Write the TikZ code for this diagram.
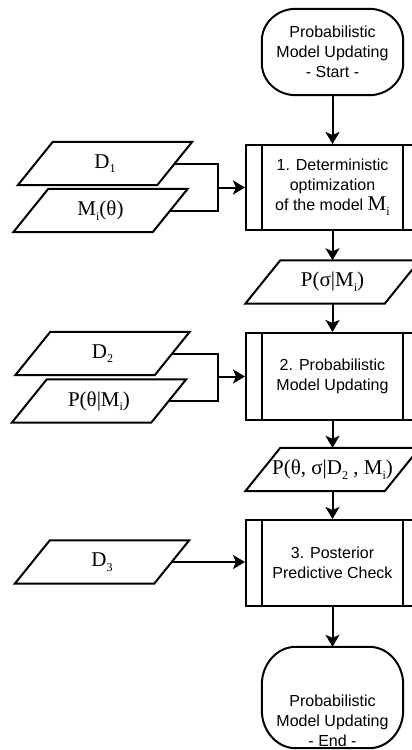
\documentclass[tikz,border=0pt]{standalone}
\usepackage{fontspec}
\setmainfont{Liberation Sans}
\newfontfamily\serifm{Liberation Serif}
\usetikzlibrary{arrows.meta,calc}
\newcommand\sbx[1]{\raisebox{-0.22em}{\fontsize{12}{12}\selectfont #1}}
\newcommand\iobox[4]{%
  \node[iotext] (#1) at (#2,#3) {#4};
  \draw[ln,line join=miter] ($(#1.south west)+(-17.5,0)$) -- ($(#1.south east)+(-17.5,0)$)
    -- ($(#1.north east)+(17.5,0)$) -- ($(#1.north west)+(17.5,0)$) -- cycle;}
\newcommand\procbars[1]{%
  \draw[ln] ([xshift=17pt]#1.north west) -- ([xshift=17pt]#1.south west);
  \draw[ln] ([xshift=-17pt]#1.north east) -- ([xshift=-17pt]#1.south east);}
% terminal outline with elliptical corners: name, rx, ry
\newcommand\termshape[3]{%
  \draw[ln] ($(#1.north west)+(#2,0)$) -- ($(#1.north east)+(-#2,0)$)
    arc[start angle=90,end angle=0,x radius=#2pt,y radius=#3pt]
    -- ($(#1.south east)+(0,-#3)$)
    arc[start angle=0,end angle=-90,x radius=#2pt,y radius=#3pt]
    -- ($(#1.south west)+(#2,0)$)
    arc[start angle=-90,end angle=-180,x radius=#2pt,y radius=#3pt]
    -- ($(#1.north west)+(0,#3)$)
    arc[start angle=180,end angle=90,x radius=#2pt,y radius=#3pt] -- cycle;}
\begin{document}
\begin{tikzpicture}[x=1pt,y=-1pt,
  ln/.style={line width=2pt},
  arr/.style={ln,-{Stealth[length=12pt,width=14pt,inset=3pt]}},
  term/.style={minimum width=141pt,align=center,
    font=\fontsize{16}{20}\selectfont,inner sep=0pt},
  proc/.style={draw,ln,minimum width=173pt,align=center,
    font=\fontsize{16}{20}\selectfont,inner sep=0pt},
  iotext/.style={minimum width=139pt,minimum height=43pt,inner sep=0pt,
    font=\serifm\fontsize{21}{23}\selectfont},
  lbl/.style={align=center,font=\fontsize{16}{20}\selectfont,inner sep=0pt}
]
\useasboundingbox (0,0) rectangle (412,750);
\clip (0,0) rectangle (412,750);

% main column
\node[term,minimum height=86pt] (start) at (332.5,52) {Probabilistic\\Model Updating\\- Start -};
\termshape{start}{34}{32}
\node[proc,minimum height=85pt] (b1) at (332.5,187.5)
  {1. Deterministic\\optimization\\of the model {\serifm\fontsize{21}{20}\selectfont M\sbx{i}}};
\procbars{b1}
\iobox{p1}{332.5}{282}{P(σ|M\sbx{i})}
\node[proc,minimum height=87pt] (b2) at (332.5,376.5) {2. Probabilistic\\Model Updating};
\procbars{b2}
\iobox{p2}{332.5}{469.5}{P(θ, σ|D\sbx{2} , M\sbx{i})}
\node[proc,minimum height=86pt] (b3) at (332.5,563) {3. Posterior\\Predictive Check};
\procbars{b3}
\node[term,minimum height=101pt] (end) at (332.5,697.5) {};
\termshape{end}{34}{38}
\node[lbl] (endlbl) at (332.5,721) {Probabilistic\\Model Updating\\- End -};

% left inputs
\iobox{d1}{105}{163.5}{D\sbx{1}}
\iobox{m1}{100.5}{210.5}{M\sbx{i}(θ)}
\iobox{d2}{102.5}{353.5}{D\sbx{2}}
\iobox{pm}{99}{401}{P(θ|M\sbx{i})}
\iobox{d3}{102}{562}{D\sbx{3}}

% connectors
\draw[arr] (start) -- (b1);
\draw[arr] (b1) -- (p1);
\draw[arr] (p1) -- (b2);
\draw[arr] (b2) -- (p2);
\draw[arr] (p2) -- (b3);
\draw[arr] (b3) -- (end);

\coordinate (j1) at (218,187.5);
\draw[ln] (d1.east) -| (j1);
\draw[ln] (m1.east) -| (j1);
\draw[arr] (j1) -- (b1.west);

\coordinate (j2) at (218,376.5);
\draw[ln] (d2.east) -| (j2);
\draw[ln] (pm.east) -| (j2);
\draw[arr] (j2) -- (b2.west);

\draw[arr] (d3.east) -- (d3.east -| b3.west);
\end{tikzpicture}
\end{document}
